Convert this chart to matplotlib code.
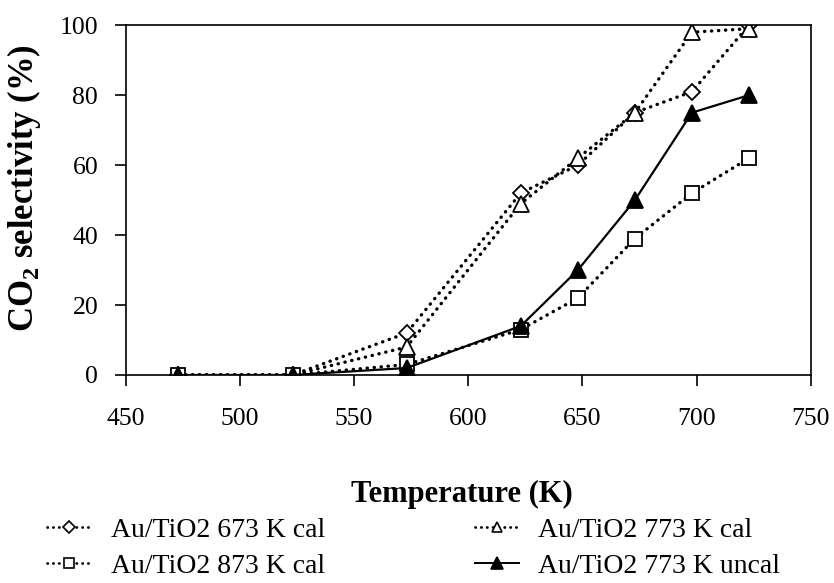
import matplotlib
matplotlib.use("Agg")
import matplotlib.pyplot as plt

plt.rcParams['font.family'] = ['Liberation Serif', 'DejaVu Serif']
plt.rcParams['mathtext.fontset'] = 'custom'
plt.rcParams['mathtext.rm'] = 'Liberation Serif'
plt.rcParams['mathtext.bf'] = 'Liberation Serif:bold'

temps = [473, 523, 573, 623, 648, 673, 698, 723]
cal673 = [0, 0, 12, 52, 60, 75, 81, 100]
cal773 = [0, 0, 8, 49, 62, 75, 98, 99]
cal873 = [0, 0, 3, 13, 22, 39, 52, 62]
uncal773 = [0, 0, 2, 14, 30, 50, 75, 80]

labels = ["Au/TiO2 673 K cal", "Au/TiO2 773 K cal", "Au/TiO2 873 K cal", "Au/TiO2 773 K uncal"]
xticks = [450, 500, 550, 600, 650, 700, 750]
yticks = [0, 20, 40, 60, 80, 100]

fig = plt.figure(figsize=(8.34, 5.83), dpi=100)
ax = fig.add_axes([0.151, 0.3568, 0.821, 0.600])

dot = (0, (0.1, 2.0))
common = dict(color='black', mec='black', mew=1.3)
l1, = ax.plot(temps, cal673, linestyle=dot, lw=2.4, marker='D', ms=8,
              mfc='white', dash_capstyle='round', label=labels[0], **common)
l2, = ax.plot(temps, cal773, linestyle=dot, lw=2.4, marker='^', ms=11,
              mfc='white', dash_capstyle='round', label=labels[1], **common)
l3, = ax.plot(temps, cal873, linestyle=dot, lw=2.4, marker='s', ms=9.5,
              mfc='white', dash_capstyle='round', label=labels[2], **common)
l4, = ax.plot(temps, uncal773, linestyle='-', lw=1.6, marker='^', ms=11,
              mfc='black', label=labels[3], **common)

ax.set_xlim(450, 750)
ax.set_ylim(0, 100)
ax.set_xticks(xticks)
ax.set_yticks(yticks)
ax.tick_params(labelsize=18.5, direction='out', length=8, width=1.2, color='black')
ax.tick_params(axis='x', pad=16)
ax.tick_params(axis='y', pad=12)
for s in ax.spines.values():
    s.set_linewidth(1.2)

ax.set_xlabel("Temperature (K)", fontsize=22, fontweight='bold')
ax.set_ylabel(r"CO$_\mathbf{2}$ selectivity (%)", fontsize=25, fontweight='bold')
ax.xaxis.set_label_coords(0.49, -0.3)
ax.yaxis.set_label_coords(-0.121, 0.534)

def mk_handle(ls, lw, marker, ms, mfc):
    h, = ax.plot([], [], linestyle=ls, lw=lw, color='black', marker=marker, ms=ms,
                 mfc=mfc, mec='black', mew=1.2, dash_capstyle='round')
    return h

h1 = mk_handle(dot, 2.0, 'D', 6, 'white')
h3 = mk_handle(dot, 2.0, 's', 7, 'white')
h2 = mk_handle(dot, 2.0, '^', 7.5, 'white')
h4 = mk_handle('-', 1.4, '^', 8, 'black')

leg_kw = dict(frameon=False, fontsize=20, loc='upper left', handlelength=1.6,
              handletextpad=0.7, labelspacing=0.38, borderaxespad=0, borderpad=0)
leg1 = fig.legend(handles=[h1, h3], labels=[labels[0], labels[2]],
                  bbox_to_anchor=(0.056, 0.113), **leg_kw)
leg2 = fig.legend(handles=[h2, h4], labels=[labels[1], labels[3]],
                  bbox_to_anchor=(0.569, 0.113), **leg_kw)

fig.savefig("out.png", dpi=100)
